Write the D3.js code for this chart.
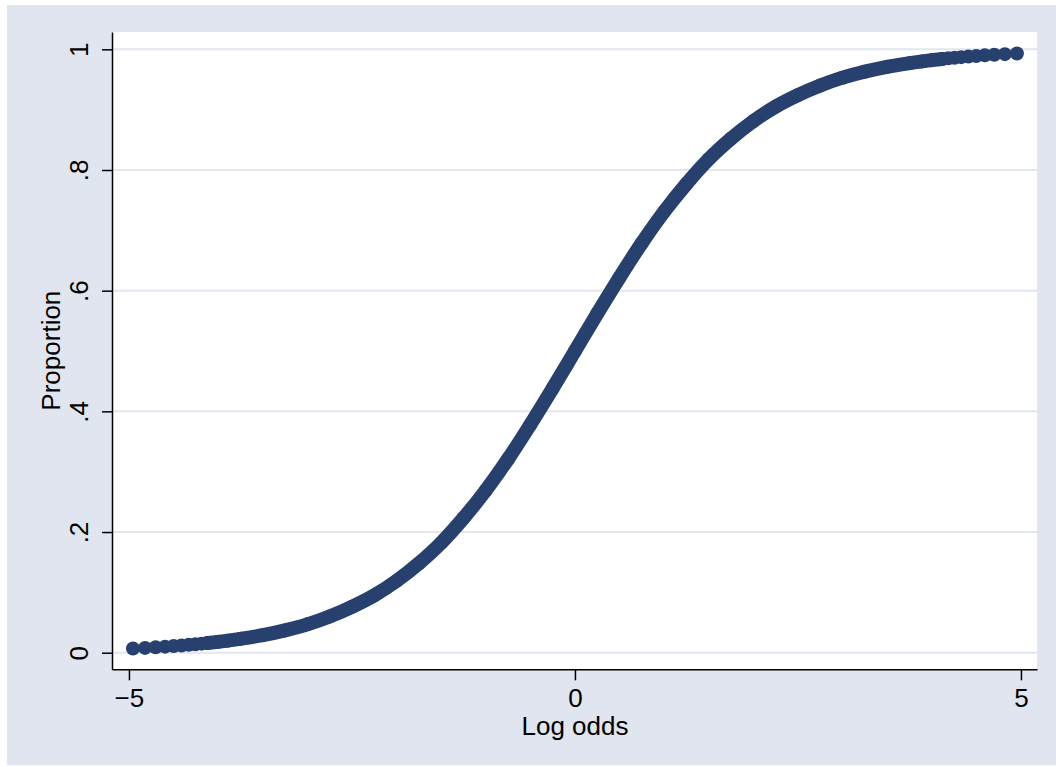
<!DOCTYPE html>
<html>
<head>
<meta charset="utf-8">
<script src="https://cdn.jsdelivr.net/npm/d3@7/dist/d3.min.js"></script>
<style>
    html, body { margin:0; padding:0; background:#fff; }
    svg { display:block; }
    .axis text { font-family:"Liberation Sans", Arial, sans-serif; font-size:26px; fill:#000; }
    .axis path, .axis line { stroke:#000; stroke-width:1.5px; }
    .title { font-family:"Liberation Sans", Arial, sans-serif; font-size:26px; fill:#000; }
</style>
</head>
<body>
<script>
(function() {
    'use strict';

    // log odds (x) and proportion (y)
    var logOdds = [
        -4.955, -4.820, -4.701, -4.595, -4.499, -4.411, -4.330, -4.255, -4.185, -4.119, -3.999, -3.892,
        -3.75, -3.5, -3.25, -3.0, -2.75, -2.5, -2.25, -2.0, -1.75, -1.5, -1.25, -1.0, -0.75, -0.5, -0.25,
        0,
        0.25, 0.5, 0.75, 1.0, 1.25, 1.5, 1.75, 2.0, 2.25, 2.5, 2.75, 3.0, 3.25, 3.5, 3.75,
        3.892, 3.999, 4.119, 4.185, 4.255, 4.330, 4.411, 4.499, 4.595, 4.701, 4.820, 4.955
    ];
    var proportion = [
        0.007, 0.008, 0.009, 0.010, 0.011, 0.012, 0.013, 0.014, 0.015, 0.016, 0.018, 0.020,
        0.023, 0.029, 0.037, 0.047, 0.060, 0.076, 0.095, 0.119, 0.148, 0.182, 0.223, 0.269, 0.321, 0.378, 0.438,
        0.500,
        0.562, 0.622, 0.679, 0.731, 0.777, 0.818, 0.852, 0.881, 0.905, 0.924, 0.940, 0.953, 0.963, 0.971, 0.977,
        0.980, 0.982, 0.984, 0.985, 0.986, 0.987, 0.988, 0.989, 0.990, 0.991, 0.992, 0.993
    ];

    var xTicks = [-5, 0, 5],
        yTicks = [0, 0.2, 0.4, 0.6, 0.8, 1],
        yTickLabels = ['0', '.2', '.4', '.6', '.8', '1'];

    var W = 1056, H = 767,
        L = 112, R = 1037, T = 32, B = 669.3,
        msize = 14;

    var navy = '#27406e',
        back = '#e0e5ef',
        grid = '#e1e6f0';

    var data = logOdds.map(function(d, i) { return { x: d, y: proportion[i] }; });

    var svg = d3.select('body').append('svg')
        .attr('width', W)
        .attr('height', H);

    svg.append('rect')
        .attr('x', 7).attr('y', 5)
        .attr('width', W - 7).attr('height', H - 7)
        .attr('fill', back);

    svg.append('rect')
        .attr('x', L).attr('y', T)
        .attr('width', R - L).attr('height', B - T)
        .attr('fill', '#fff');

    var x = d3.scaleLinear().domain([-5.19, 5.18]).range([L, R]),
        y = d3.scaleLinear().domain([-0.0275, 1.0287]).range([B, T]);

    // grid
    svg.append('g')
        .selectAll('line')
        .data(yTicks).enter()
            .append('line')
            .attr('x1', L).attr('x2', R)
            .attr('y1', function(d) { return y(d); })
            .attr('y2', function(d) { return y(d); })
            .attr('stroke', grid)
            .attr('stroke-width', 2);

    // curve: dense middle as a thick line, the sparse ends as single markers
    var line = d3.line()
        .x(function(d) { return x(d.x); })
        .y(function(d) { return y(d.y); })
        .curve(d3.curveMonotoneX);

    svg.append('path')
        .datum(data.slice(9, data.length - 9))
        .attr('d', line)
        .attr('fill', 'none')
        .attr('stroke', navy)
        .attr('stroke-width', msize)
        .attr('stroke-linecap', 'round');

    svg.append('g')
        .selectAll('circle')
        .data(data).enter()
            .append('circle')
            .attr('cx', function(d) { return x(d.x); })
            .attr('cy', function(d) { return y(d.y); })
            .attr('r', msize / 2)
            .attr('fill', navy);

    // axes
    svg.append('g')
        .attr('class', 'axis')
        .attr('transform', 'translate(0,' + B + ')')
        .call(d3.axisBottom(x).tickValues(xTicks).tickSize(11).tickSizeOuter(0).tickPadding(8))
        .selectAll('text')
            .attr('dy', '0.71em');

    var yAxis = svg.append('g')
        .attr('class', 'axis')
        .attr('transform', 'translate(' + L + ',0)')
        .call(d3.axisLeft(y).tickValues(yTicks).tickSize(10).tickSizeOuter(0)
            .tickFormat(function(d, i) { return yTickLabels[i]; }));

    yAxis.selectAll('text')
        .attr('transform', 'rotate(-90)')
        .attr('x', 0)
        .attr('y', -24)
        .attr('dy', 0)
        .attr('text-anchor', 'middle');

    svg.append('text')
        .attr('class', 'title')
        .attr('x', (L + R) / 2 + 0.5)
        .attr('y', 735)
        .attr('text-anchor', 'middle')
        .text('Log odds');

    svg.append('text')
        .attr('class', 'title')
        .attr('transform', 'translate(60,' + (T + B) / 2 + ') rotate(-90)')
        .attr('text-anchor', 'middle')
        .text('Proportion');
})();
</script>
</body>
</html>
